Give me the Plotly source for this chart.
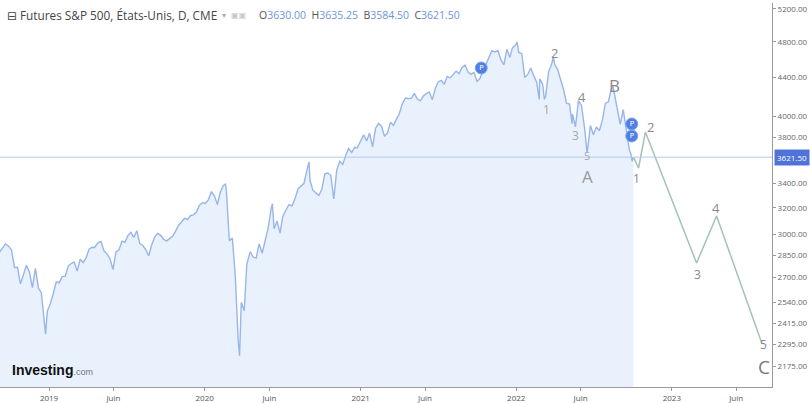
import math
import plotly.graph_objects as go

# ---------------- data ----------------
dates = [
    "2018-09-07","2018-09-14","2018-09-21","2018-09-28","2018-10-05","2018-10-12","2018-10-19","2018-10-26",
    "2018-11-02","2018-11-09","2018-11-16","2018-11-23","2018-11-30","2018-12-07","2018-12-14","2018-12-21",
    "2018-12-24","2018-12-28",
    "2019-01-04","2019-01-11","2019-01-18","2019-01-25","2019-02-01","2019-02-08","2019-02-15","2019-02-22",
    "2019-03-01","2019-03-08","2019-03-15","2019-03-22","2019-03-29","2019-04-05","2019-04-12","2019-04-18",
    "2019-04-26","2019-05-03","2019-05-10","2019-05-17","2019-05-24","2019-05-31","2019-06-07","2019-06-14",
    "2019-06-21","2019-06-28","2019-07-05","2019-07-12","2019-07-19","2019-07-26","2019-08-02","2019-08-09",
    "2019-08-16","2019-08-23","2019-08-30","2019-09-06","2019-09-13","2019-09-20","2019-09-27","2019-10-04",
    "2019-10-11","2019-10-18","2019-10-25","2019-11-01","2019-11-08","2019-11-15","2019-11-22","2019-11-29",
    "2019-12-06","2019-12-13","2019-12-20","2019-12-27",
    "2020-01-03","2020-01-10","2020-01-17","2020-01-24","2020-01-31","2020-02-07","2020-02-14","2020-02-19",
    "2020-02-21","2020-02-28","2020-03-06","2020-03-13","2020-03-20","2020-03-23","2020-03-27","2020-04-03",
    "2020-04-09","2020-04-17","2020-04-24","2020-05-01","2020-05-08","2020-05-15","2020-05-22","2020-05-29",
    "2020-06-05","2020-06-08","2020-06-12","2020-06-19","2020-06-26","2020-07-02","2020-07-10","2020-07-17",
    "2020-07-24","2020-07-31","2020-08-07","2020-08-14","2020-08-21","2020-08-28","2020-09-02","2020-09-04",
    "2020-09-11","2020-09-18","2020-09-25","2020-10-02","2020-10-09","2020-10-16","2020-10-23","2020-10-30",
    "2020-11-06","2020-11-13","2020-11-20","2020-11-27","2020-12-04","2020-12-11","2020-12-18","2020-12-24",
    "2020-12-31",
    "2021-01-08","2021-01-15","2021-01-22","2021-01-29","2021-02-05","2021-02-12","2021-02-19","2021-02-26",
    "2021-03-05","2021-03-12","2021-03-19","2021-03-26","2021-04-01","2021-04-09","2021-04-16","2021-04-23",
    "2021-04-30","2021-05-07","2021-05-14","2021-05-21","2021-05-28","2021-06-04","2021-06-11","2021-06-18",
    "2021-06-25","2021-07-02","2021-07-09","2021-07-16","2021-07-23","2021-07-30","2021-08-06","2021-08-13",
    "2021-08-20","2021-08-27","2021-09-03","2021-09-10","2021-09-17","2021-09-24","2021-10-01","2021-10-08",
    "2021-10-15","2021-10-22","2021-10-29","2021-11-05","2021-11-12","2021-11-19","2021-11-26","2021-12-03",
    "2021-12-10","2021-12-17","2021-12-23","2021-12-31",
    "2022-01-03","2022-01-07","2022-01-14","2022-01-21","2022-01-28","2022-02-04","2022-02-11","2022-02-18",
    "2022-02-24","2022-02-25","2022-03-04","2022-03-08","2022-03-11","2022-03-18","2022-03-25","2022-03-29",
    "2022-04-01","2022-04-08","2022-04-14","2022-04-22","2022-04-29","2022-05-06","2022-05-12","2022-05-13",
    "2022-05-20","2022-05-27","2022-06-03","2022-06-10","2022-06-16","2022-06-17","2022-06-24","2022-07-01",
    "2022-07-08","2022-07-15","2022-07-22","2022-07-29","2022-08-05","2022-08-12","2022-08-16","2022-08-19",
    "2022-08-26","2022-09-02","2022-09-09","2022-09-16","2022-09-23","2022-09-27","2022-09-30","2022-10-03",
]
closes = [
    2872,2905,2930,2914,2886,2767,2768,2658,
    2723,2781,2736,2633,2760,2633,2600,2417,
    2351,2486,
    2532,2596,2671,2665,2707,2708,2776,2793,
    2804,2743,2822,2800,2834,2893,2907,2905,
    2940,2946,2881,2860,2826,2752,2873,2887,
    2950,2942,2990,3014,2977,3026,2932,2919,
    2889,2847,2926,2979,3007,2992,2962,2952,
    2970,2986,3023,3067,3093,3120,3110,3141,
    3146,3169,3221,3240,
    3235,3265,3330,3295,3226,3328,3380,3390,
    3338,2954,2972,2711,2305,2230,2541,2489,
    2790,2875,2837,2831,2930,2864,2955,3044,
    3194,3232,3041,3098,3009,3130,3185,3225,
    3216,3271,3351,3373,3397,3508,3580,3427,
    3341,3319,3298,3348,3477,3484,3465,3270,
    3509,3585,3558,3638,3699,3663,3709,3703,
    3756,
    3824,3768,3841,3714,3886,3934,3906,3811,
    3842,3943,3913,3974,4019,4128,4185,4180,
    4181,4232,4173,4155,4204,4229,4247,4166,
    4280,4352,4369,4327,4411,4395,4436,4468,
    4441,4509,4535,4458,4433,4455,4357,4391,
    4471,4545,4605,4697,4682,4698,4595,4538,
    4712,4620,4726,4766,
    4796,4677,4663,4398,4432,4501,4419,4349,
    4170,4385,4329,4170,4204,4463,4543,4631,
    4546,4488,4393,4272,4132,4123,3930,4024,
    3901,4158,4109,3901,3667,3675,3912,3825,
    3899,3863,3962,4130,4145,4280,4305,4228,
    4058,3924,4067,3873,3693,3650,3585,3621.5,
]

proj_dates = ["2022-10-03", "2022-10-15", "2022-10-31", "2023-02-28", "2023-04-16", "2023-07-31"]
proj_values = [3621.5, 3527, 3851, 2797, 3137, 2301]

wave_labels = ["1", "2", "3", "4", "5", "A", "B", "1", "2", "3", "4", "5", "C"]
wave_dates = ["2022-03-12", "2022-03-31", "2022-05-19", "2022-06-04", "2022-06-16", "2022-06-18", "2022-08-20",
              "2022-10-10", "2022-11-12", "2023-03-02", "2023-04-14", "2023-08-05", "2023-08-05"]
wave_values = [4064, 4671, 3814, 4195, 3640, 3451, 4319, 3434, 3898, 2717, 3199, 2295, 2170]
wave_sizes = [12, 13, 12, 13, 11, 17, 17, 12, 13, 12, 13, 12, 19]
wave_colors = ["#a8a8a8", "#8a8a8a", "#a8a8a8", "#8a8a8a", "#a8a8a8", "#9a9a9a", "#8a8a8a",
               "#8a8a8a", "#8a8a8a", "#8a8a8a", "#8a8a8a", "#8a8a8a", "#7a7a7a"]

pivot_dates = ["2021-10-11", "2022-09-29", "2022-09-29"]
pivot_values = [4503, 3927, 3814]

y_ticks = [5200, 4800, 4400, 4000, 3800, 3400, 3200, 3000, 2850, 2700, 2540, 2415, 2295, 2175]
x_tick_dates = ["2019-01-01", "2019-06-01", "2020-01-01", "2020-06-01", "2021-01-01", "2021-06-01",
                "2022-01-01", "2022-06-01", "2023-01-01", "2023-06-01"]
x_tick_text = ["2019", "Juin", "2020", "Juin", "2021", "Juin", "2022", "Juin", "2023", "Juin"]
last_price = 3621.5

# ---------------- figure ----------------
FONT = "Open Sans, DejaVu Sans, sans-serif"
fig = go.Figure()

# baseline (below range) to fill down to the bottom
fig.add_trace(go.Scatter(x=[dates[0], dates[-1]], y=[1000, 1000], mode="lines",
                         line=dict(width=0, color="rgba(0,0,0,0)"), hoverinfo="skip", showlegend=False))
fig.add_trace(go.Scatter(x=dates, y=closes, mode="lines", fill="tonexty",
                         fillcolor="#e8f1fc",
                         line=dict(color="#98b6e9", width=1.4), showlegend=False))
fig.add_trace(go.Scatter(x=proj_dates, y=proj_values, mode="lines",
                         line=dict(color="#a3c4b4", width=1.5), showlegend=False))
fig.add_trace(go.Scatter(x=pivot_dates, y=pivot_values, mode="markers+text", text=["P"] * len(pivot_dates),
                         textposition="middle center",
                         textfont=dict(color="white", size=7, family="DejaVu Sans"),
                         marker=dict(size=12, color="#4f7fe3", line=dict(color="#7ea3f0", width=1)),
                         showlegend=False))

annotations = []
for lab, d, v, s, c in zip(wave_labels, wave_dates, wave_values, wave_sizes, wave_colors):
    annotations.append(dict(x=d, y=math.log10(v), xref="x", yref="y", text=lab, showarrow=False,
                            font=dict(size=s, color=c, family=FONT)))

# header
annotations.append(dict(x=5 / 772, y=1 - 12 / 384, xref="paper", yref="paper", xanchor="left", yanchor="middle",
                        showarrow=False, text="⊟ Futures S&P 500, États-Unis, D, CME",
                        font=dict(size=11.8, color="#444", family=FONT)))
annotations.append(dict(x=220 / 772, y=1 - 12 / 384, xref="paper", yref="paper", xanchor="left", yanchor="middle",
                        showarrow=False, text="▾  <span style='color:#c8c8c8'>▣▣</span>",
                        font=dict(size=8, color="#aaa", family="DejaVu Sans")))
num = "#6e95db"
annotations.append(dict(x=257 / 772, y=1 - 12 / 384, xref="paper", yref="paper", xanchor="left", yanchor="middle",
                        showarrow=False,
                        text=("O<span style='color:%s'>3630.00</span>  H<span style='color:%s'>3635.25</span>  "
                              "B<span style='color:%s'>3584.50</span>  C<span style='color:%s'>3621.50</span>")
                             % (num, num, num, num),
                        font=dict(size=10.5, color="#555", family=FONT)))
# logo
annotations.append(dict(x=10 / 772, y=(387 - 370) / 384, xref="paper", yref="paper", xanchor="left",
                        yanchor="middle", showarrow=False,
                        text="<b>Investing</b><span style='font-size:9px;color:#777'>.com</span>",
                        font=dict(size=14, color="#111", family="Liberation Sans, Arial, sans-serif")))
# last price label
annotations.append(dict(x=1, y=math.log10(last_price), xref="paper", yref="y", xanchor="left", yanchor="middle",
                        xshift=2, showarrow=False, text="3621.50", bgcolor="#4f73d9", borderpad=2,
                        font=dict(size=8, color="white", family=FONT)))

fig.add_shape(type="line", xref="paper", x0=0, x1=1, yref="y", y0=last_price, y1=last_price,
              line=dict(color="#b3c8f0", width=1))

fig.update_layout(
    width=810, height=403,
    margin=dict(l=0, r=38, t=3, b=16),
    paper_bgcolor="white", plot_bgcolor="white",
    showlegend=False,
    annotations=annotations,
    xaxis=dict(type="date", range=["2018-09-08", "2023-08-24"], tickvals=x_tick_dates, ticktext=x_tick_text,
               showgrid=False, zeroline=False, showline=True, linecolor="#9a9a9a", linewidth=1,
               ticks="outside", ticklen=3, tickcolor="#9a9a9a",
               tickfont=dict(size=8, color="#555", family=FONT), automargin=False),
    yaxis=dict(type="log", side="right", range=[3.31519, 3.72236], tickvals=y_ticks,
               ticktext=["%.2f" % v for v in y_ticks],
               showgrid=False, zeroline=False, showline=True, linecolor="#9a9a9a", linewidth=1,
               ticks="outside", ticklen=3, tickcolor="#9a9a9a",
               tickfont=dict(size=8, color="#666", family=FONT), automargin=False),
)

fig.write_html("out.html", config={"displayModeBar": False},
               post_script="document.body.style.margin='0px';document.body.style.overflow='hidden';")
